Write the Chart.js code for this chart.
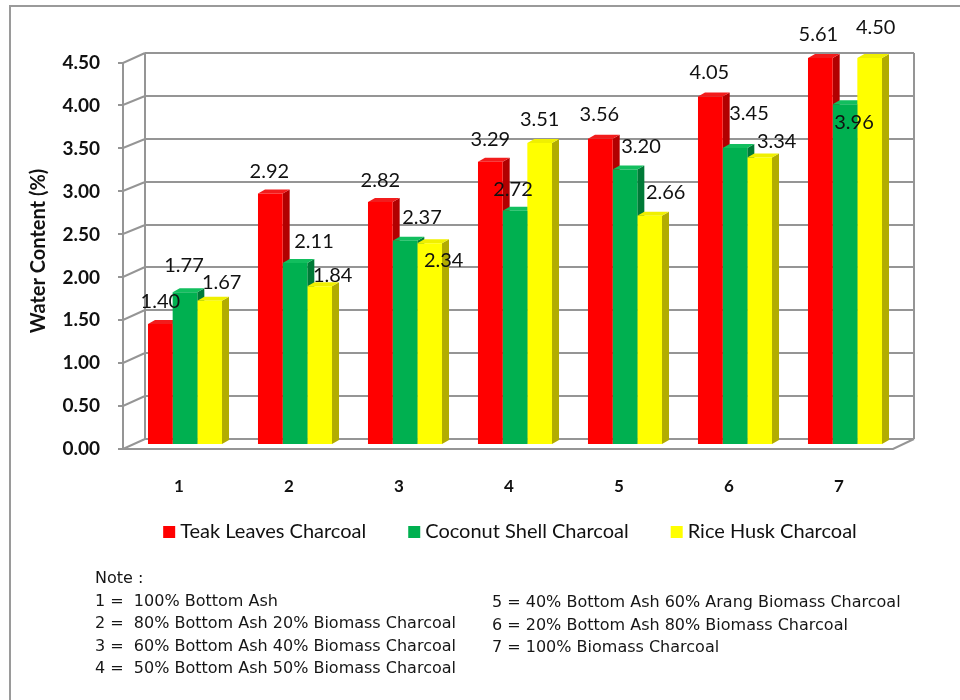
<!DOCTYPE html>
<html>
<head>
<meta charset="utf-8">
<script src="https://cdn.jsdelivr.net/npm/chart.js@4.4.1/dist/chart.umd.min.js"></script>
<style>
  html, body { margin: 0; padding: 0; background: #fff; overflow: hidden; }
  #wrap { position: relative; width: 960px; height: 700px; }
  #frame { position: absolute; left: 9px; top: 5px; width: 1000px; height: 800px;
           border-left: 2px solid #9a9a9a; border-top: 2px solid #9a9a9a; }
  canvas { position: absolute; left: 0; top: 0; }
  .note { position: absolute; font-family: "DejaVu Sans", sans-serif; font-size: 16px;
          color: #161616; white-space: pre; line-height: 22.6px; }
</style>
</head>
<body>
<div id="wrap">
  <div id="frame"></div>
  <canvas id="chart" width="960" height="700"></canvas>
  <div class="note" style="left:95px; top:567px;">Note :
1 =  100% Bottom Ash
2 =  80% Bottom Ash 20% Biomass Charcoal
3 =  60% Bottom Ash 40% Biomass Charcoal
4 =  50% Bottom Ash 50% Biomass Charcoal</div>
  <div class="note" style="left:492px; top:591px;">5 = 40% Bottom Ash 60% Arang Biomass Charcoal
6 = 20% Bottom Ash 80% Biomass Charcoal
7 = 100% Biomass Charcoal</div>
</div>
<script>
// Mixture codes on the x axis
const categories = ['1', '2', '3', '4', '5', '6', '7'];

// Water content (%) per charcoal type
const teakLeaves   = [1.40, 2.92, 2.82, 3.29, 3.56, 4.05, 5.61];
const coconutShell = [1.77, 2.11, 2.37, 2.72, 3.20, 3.45, 3.96];
const riceHusk     = [1.67, 1.84, 2.34, 3.51, 2.66, 3.34, 4.50];

const seriesNames = ['Teak Leaves Charcoal', 'Coconut Shell Charcoal', 'Rice Husk Charcoal'];

// Value axis ticks
const yTicks = [0, 0.5, 1, 1.5, 2, 2.5, 3, 3.5, 4, 4.5];

// Nudges [dx, dy] for each value label, relative to the top centre of its bar
const labelShift = [
  [[0, -22], [-1, -22], [0, -22], [0, -22], [-1, -24], [-1, -24], [-2, -23]],
  [[-1, -27], [19, -21], [17, -23], [-2, -21], [16, -23], [14, -35], [9, 18]],
  [[12, -18], [13, -11], [14, 17], [0, -23], [16, -23], [17, -16], [6, -30]]
];

// Depth of the extruded bars and of the back wall
const DEPTH_X = 7, DEPTH_Y = -4;
const GRID = '#959595';

// Back wall, floor and front axis of the pseudo-3D box
const boxPlugin = {
  id: 'box3d',
  beforeDatasetsDraw(chart) {
    const {ctx, chartArea: a, scales: {y}} = chart;
    const backL = a.left + 15, backR = a.right + 14;
    const frontX = a.left - 7;
    ctx.save();
    ctx.strokeStyle = GRID;
    ctx.lineWidth = 2;
    ctx.lineCap = 'butt';
    const top = y.getPixelForValue(y.max) - 5;
    const bot = y.getPixelForValue(0) - 5;
    ctx.beginPath();
    // back wall gridlines
    yTicks.forEach(v => {
      const py = Math.round(y.getPixelForValue(v) - 5);
      ctx.moveTo(backL, py); ctx.lineTo(backR, py);
    });
    // back wall edges
    ctx.moveTo(backL, top); ctx.lineTo(backL, bot);
    ctx.moveTo(backR, top); ctx.lineTo(backR, bot);
    // front axis with tick marks and side-wall diagonals
    const fTop = y.getPixelForValue(y.max) + 4;
    const fBot = y.getPixelForValue(0) + 5;
    ctx.moveTo(frontX, fTop); ctx.lineTo(frontX, fBot);
    yTicks.forEach(v => {
      const fy = Math.round(y.getPixelForValue(v) + 4.5);
      const by = Math.round(y.getPixelForValue(v) - 5);
      ctx.moveTo(frontX - 5, fy); ctx.lineTo(frontX, fy);
      ctx.lineTo(backL, by);
    });
    // floor front edge and right diagonal
    ctx.moveTo(frontX, Math.round(fBot)); ctx.lineTo(a.right - 7, Math.round(fBot));
    ctx.lineTo(backR, Math.round(bot));
    ctx.stroke();

    // side and top faces of every bar (front faces are drawn by Chart.js)
    chart.data.datasets.forEach((ds, di) => {
      const meta = chart.getDatasetMeta(di);
      meta.data.forEach(el => {
        const x0 = el.x - el.width / 2, x1 = el.x + el.width / 2;
        const t = Math.max(el.y, a.top), b = el.base;
        ctx.fillStyle = ds.sideColor;
        ctx.beginPath();
        ctx.moveTo(x1, t); ctx.lineTo(x1 + DEPTH_X, t + DEPTH_Y);
        ctx.lineTo(x1 + DEPTH_X, b + DEPTH_Y); ctx.lineTo(x1, b);
        ctx.closePath(); ctx.fill();
        ctx.fillStyle = ds.topColor;
        ctx.beginPath();
        ctx.moveTo(x0, t); ctx.lineTo(x0 + DEPTH_X, t + DEPTH_Y);
        ctx.lineTo(x1 + DEPTH_X, t + DEPTH_Y); ctx.lineTo(x1, t);
        ctx.closePath(); ctx.fill();
      });
    });
    ctx.restore();
  }
};

// Value labels above the bars
const valueLabelPlugin = {
  id: 'valueLabels',
  afterDatasetsDraw(chart) {
    const {ctx, chartArea: a} = chart;
    ctx.save();
    ctx.font = '20px Lato, "Open Sans", sans-serif';
    ctx.fillStyle = '#111';
    ctx.textAlign = 'center';
    ctx.textBaseline = 'middle';
    chart.data.datasets.forEach((ds, di) => {
      chart.getDatasetMeta(di).data.forEach((el, i) => {
        const [dx, dy] = labelShift[di][i];
        const t = Math.max(el.y, a.top);
        ctx.fillText(ds.data[i].toFixed(2), el.x + dx, t + dy);
      });
    });
    ctx.restore();
  }
};

// Legend row below the category axis
const legendPlugin = {
  id: 'legendRow',
  afterDraw(chart) {
    const {ctx} = chart;
    ctx.save();
    ctx.font = '20px Lato, "Open Sans", sans-serif';
    ctx.textBaseline = 'middle';
    const box = 12, gapText = 5, gapItem = 42;
    const items = chart.data.datasets.map(ds => ({
      text: ds.label, color: ds.backgroundColor, w: ctx.measureText(ds.label).width
    }));
    const total = items.reduce((s, it) => s + box + gapText + it.w, 0) + gapItem * (items.length - 1);
    let x = 510 - total / 2;
    const cy = 532;
    items.forEach(it => {
      ctx.fillStyle = it.color;
      ctx.fillRect(x, cy - box / 2, box, box);
      ctx.fillStyle = '#111';
      ctx.textAlign = 'left';
      ctx.fillText(it.text, x + box + gapText, cy);
      x += box + gapText + it.w + gapItem;
    });
    ctx.restore();
  }
};

new Chart(document.getElementById('chart'), {
  type: 'bar',
  data: {
    labels: categories,
    datasets: [
      { label: seriesNames[0], data: teakLeaves, backgroundColor: '#FF0000',
        sideColor: '#B20000', topColor: '#F21C1C' },
      { label: seriesNames[1], data: coconutShell, backgroundColor: '#00B050',
        sideColor: '#007A37', topColor: '#12BE5E' },
      { label: seriesNames[2], data: riceHusk, backgroundColor: '#FFFF00',
        sideColor: '#B2AC00', topColor: '#F0F000' }
    ]
  },
  options: {
    responsive: false,
    animation: false,
    events: [],
    layout: { padding: { left: 23, top: 58, right: 60, bottom: 196 } },
    datasets: { bar: { barPercentage: 1, categoryPercentage: 0.673, borderWidth: 0 } },
    plugins: { legend: { display: false }, tooltip: { enabled: false } },
    scales: {
      x: {
        grid: { display: false, drawTicks: false },
        border: { display: false },
        ticks: { padding: 32, labelOffset: -6, color: '#111',
                 font: { family: 'Lato, sans-serif', size: 17, weight: 'bold' } },
        afterFit: s => { s.height = 60; }
      },
      y: {
        min: 0, max: 4.5,
        grid: { display: false, drawTicks: false },
        border: { display: false },
        afterBuildTicks: s => { s.ticks = yTicks.map(v => ({ value: v })); },
        ticks: { padding: 30, labelOffset: 5, color: '#111',
                 callback: v => Number(v).toFixed(2),
                 font: { family: 'Lato, sans-serif', size: 19, weight: 'bold' } },
        title: { display: true, text: 'Water Content (%)', color: '#111',
                 font: { family: 'Lato, sans-serif', size: 20, weight: 'bold' } },
        afterFit: s => { s.width = 107; }
      }
    }
  },
  plugins: [boxPlugin, valueLabelPlugin, legendPlugin]
});
</script>
</body>
</html>
